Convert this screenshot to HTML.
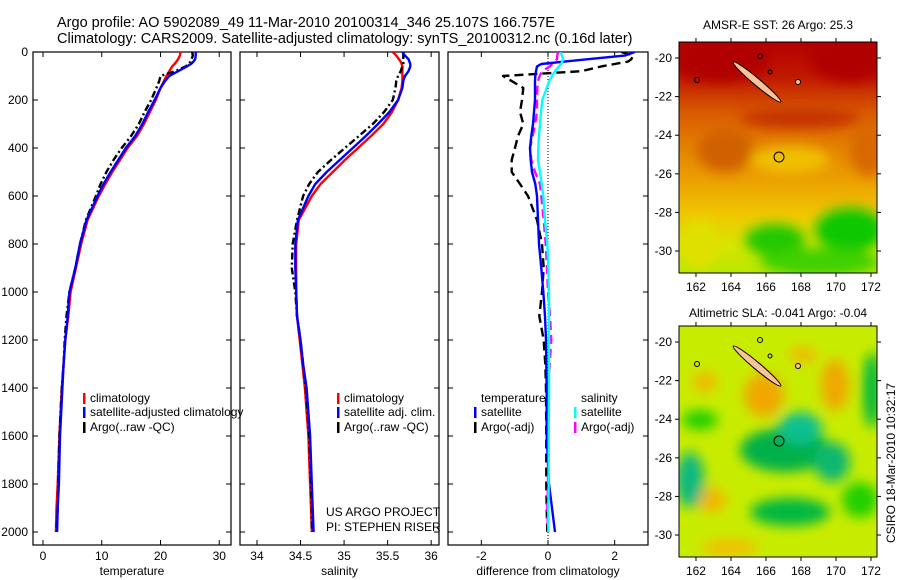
<!DOCTYPE html>
<html><head><meta charset="utf-8"><style>
html,body{margin:0;padding:0;background:#fff;}
svg{display:block;font-family:"Liberation Sans",sans-serif;}
</style></head><body>
<svg id="fig" width="900" height="580" viewBox="0 0 900 580">
<defs>
<filter id="blur6" x="-50%" y="-50%" width="200%" height="200%"><feGaussianBlur stdDeviation="6"/></filter>
<clipPath id="clipTop"><rect x="679" y="42" width="198" height="231"/></clipPath>
<clipPath id="clipBot"><rect x="679" y="326" width="198" height="231"/></clipPath>
<clipPath id="clipP1"><rect x="33" y="52" width="198" height="493"/></clipPath>
<clipPath id="clipP2"><rect x="240" y="52" width="199" height="493"/></clipPath>
<clipPath id="clipP3"><rect x="448" y="52" width="200" height="493"/></clipPath>
<linearGradient id="sstGrad" x1="0" y1="0" x2="0" y2="1">
<stop offset="0" stop-color="#b40000"/><stop offset="0.15" stop-color="#c01800"/><stop offset="0.3" stop-color="#d85800"/><stop offset="0.45" stop-color="#e48000"/><stop offset="0.6" stop-color="#eca000"/><stop offset="0.75" stop-color="#f0c800"/><stop offset="0.88" stop-color="#d8e400"/><stop offset="1" stop-color="#b8e800"/>
</linearGradient>
</defs>
<text x="57" y="27" font-size="14.5">Argo profile: AO 5902089_49 11-Mar-2010 20100314_346 25.107S 166.757E</text>
<text x="57" y="43" font-size="14.5">Climatology: CARS2009. Satellite-adjusted climatology: synTS_20100312.nc (0.16d later)</text>

<!-- SST map -->
<g>
<g clip-path="url(#clipTop)">
<rect x="679" y="42" width="198" height="231" fill="url(#sstGrad)"/>
<g filter="url(#blur6)">
<ellipse cx="850" cy="60" rx="40" ry="22" fill="#b00000"/>
<ellipse cx="720" cy="60" rx="50" ry="22" fill="#b00000"/>
<ellipse cx="800" cy="118" rx="60" ry="10" fill="#c43000"/>
<ellipse cx="725" cy="150" rx="28" ry="22" fill="#d06000"/>
<ellipse cx="868" cy="150" rx="18" ry="26" fill="#d86800"/>
<ellipse cx="790" cy="160" rx="40" ry="14" fill="#f0c000"/>
<ellipse cx="850" cy="230" rx="35" ry="22" fill="#10c800"/>
<ellipse cx="775" cy="240" rx="30" ry="16" fill="#20c800"/>
<ellipse cx="820" cy="262" rx="60" ry="14" fill="#40d000"/>
<ellipse cx="700" cy="245" rx="18" ry="25" fill="#e0e000"/>
</g>
<ellipse cx="757" cy="82" rx="31" ry="3.5" transform="rotate(40 757 82)" fill="#f9c49a" stroke="#000" stroke-width="1"/>
<circle cx="779" cy="157" r="5" fill="none" stroke="#000" stroke-width="1"/>
<circle cx="760" cy="56" r="2.5" fill="none" stroke="#000"/><circle cx="770" cy="72" r="2" fill="none" stroke="#000"/>
<circle cx="798" cy="82" r="2.5" fill="#f9c49a" stroke="#000"/><circle cx="697" cy="80" r="2.5" fill="none" stroke="#000"/>
</g>
<rect x="679" y="42" width="198" height="231" fill="none" stroke="#000"/>
</g>
<text x="778" y="29" font-size="12" text-anchor="middle">AMSR-E SST: 26 Argo: 25.3</text>

<!-- SLA map -->
<g>
<g clip-path="url(#clipBot)">
<rect x="679" y="326" width="198" height="231" fill="#c8ec00"/>
<g filter="url(#blur6)">
<ellipse cx="764" cy="395" rx="20" ry="22" fill="#f0a800"/>
<ellipse cx="835" cy="385" rx="14" ry="26" fill="#f0a800"/>
<ellipse cx="705" cy="382" rx="12" ry="10" fill="#f0b800"/>
<ellipse cx="803" cy="355" rx="14" ry="8" fill="#f0b800"/>
<ellipse cx="712" cy="500" rx="14" ry="13" fill="#f0b800"/>
<ellipse cx="785" cy="450" rx="45" ry="22" fill="#00b048"/>
<ellipse cx="800" cy="428" rx="22" ry="16" fill="#10c090"/>
<ellipse cx="832" cy="462" rx="18" ry="20" fill="#10b870"/>
<ellipse cx="690" cy="480" rx="14" ry="28" fill="#10b880"/>
<ellipse cx="790" cy="512" rx="40" ry="14" fill="#00b840"/>
<ellipse cx="872" cy="390" rx="9" ry="38" fill="#00b840"/>
<ellipse cx="700" cy="420" rx="18" ry="10" fill="#20d000"/>
<ellipse cx="860" cy="500" rx="18" ry="18" fill="#20d000"/>
<ellipse cx="730" cy="548" rx="28" ry="9" fill="#f0c000"/>
</g>
<ellipse cx="757" cy="366" rx="31" ry="3.5" transform="rotate(40 757 366)" fill="#f9c49a" stroke="#000" stroke-width="1"/>
<circle cx="779" cy="441" r="5" fill="none" stroke="#000" stroke-width="1"/>
<circle cx="760" cy="340" r="2.5" fill="none" stroke="#000"/><circle cx="770" cy="356" r="2" fill="none" stroke="#000"/>
<circle cx="798" cy="366" r="2.5" fill="#f9c49a" stroke="#000"/><circle cx="697" cy="364" r="2.5" fill="none" stroke="#000"/>
</g>
<rect x="679" y="326" width="198" height="231" fill="none" stroke="#000"/>
</g>
<text x="778" y="317" font-size="12" text-anchor="middle">Altimetric SLA: -0.041 Argo: -0.04</text>
<text transform="translate(895 463) rotate(-90)" font-size="12" text-anchor="middle">CSIRO 18-Mar-2010 10:32:17</text>

<text x="326" y="516" font-size="12">US ARGO PROJECT</text>
<text x="326" y="531" font-size="12">PI: STEPHEN RISER</text>
</svg>
<script>
// depth levels (m)
const depthLevels = [0,15,30,40,50,60,80,100,120,150,200,250,300,350,400,450,500,550,600,700,800,900,1000,1100,1200,1300,1400,1600,1800,1900,2000];
// temperature profiles
const tempClim = [23.4,23.3,23.0,22.7,22.4,22.0,21.5,21.0,20.6,20.0,19.2,18.2,17.2,16.0,14.4,13.1,11.8,10.6,9.5,7.6,6.5,5.6,4.7,4.3,3.8,3.5,3.2,2.8,2.5,2.3,2.2];
const tempSat = [26.0,26.0,25.9,25.6,25.2,24.5,23.0,21.5,20.8,20.0,19.0,17.9,16.9,15.7,14.1,12.8,11.5,10.3,9.3,7.4,6.3,5.5,4.5,4.2,3.8,3.5,3.3,2.9,2.7,2.5,2.4];
const tempArgo = [25.4,25.5,25.3,25.1,24.8,24.3,22.5,20.0,19.8,19.3,18.4,17.3,16.3,15.0,13.4,12.0,10.8,9.8,9.0,7.3,6.3,5.5,4.5,4.0,3.7,3.5,3.2,2.8,2.6,2.5,2.3];
// salinity profiles
const salClim = [35.56,35.60,35.63,35.65,35.66,35.67,35.67,35.67,35.67,35.66,35.62,35.55,35.45,35.31,35.16,35.01,34.87,34.73,34.63,34.48,34.45,34.45,34.45,34.46,34.49,34.52,34.55,34.59,34.61,34.62,34.63];
const salSat = [35.67,35.70,35.74,35.75,35.76,35.76,35.74,35.70,35.68,35.67,35.62,35.52,35.39,35.25,35.10,34.95,34.80,34.67,34.59,34.47,34.44,34.44,34.45,34.46,34.50,34.53,34.57,34.61,34.63,34.64,34.65];
const salArgo = [35.68,35.68,35.68,35.68,35.68,35.67,35.65,35.62,35.60,35.59,35.56,35.46,35.33,35.17,35.01,34.85,34.70,34.60,34.53,34.46,34.41,34.40,34.44,34.46,34.50,34.53,34.56,34.60,34.62,34.63,34.63];
// differences from climatology
const diffTempSat = [2.6,2.3,1.2,0.5,-0.2,-0.33,-0.36,-0.38,-0.39,-0.39,-0.39,-0.42,-0.45,-0.5,-0.54,-0.52,-0.48,-0.38,-0.33,-0.3,-0.27,-0.2,-0.14,-0.09,-0.06,-0.05,-0.04,-0.04,0.03,0.12,0.21];
const diffTempArgo = [2.2,2.55,2.5,2.4,2.0,1.6,1.0,-1.35,-1.1,-0.74,-0.78,-0.84,-0.74,-0.9,-0.99,-1.09,-1.09,-0.84,-0.6,-0.33,-0.18,-0.13,-0.18,-0.26,-0.13,-0.08,-0.06,-0.05,-0.05,-0.04,-0.02];
const diffSalSat = [0.36,0.42,0.45,0.43,0.39,0.33,0.21,0.12,0.04,-0.04,-0.17,-0.21,-0.24,-0.27,-0.29,-0.3,-0.24,-0.19,-0.14,-0.09,-0.02,0.01,0.03,0.03,0.03,0.03,0.03,0.02,0.02,0.01,0.01];
const diffSalArgo = [0.3,0.28,0.27,0.2,0.12,0.06,-0.18,-0.25,-0.3,-0.32,-0.33,-0.33,-0.39,-0.46,-0.54,-0.5,-0.39,-0.24,-0.2,-0.13,-0.07,-0.03,0.0,0.06,0.1,0.05,0.0,0.0,0.0,-0.02,0.0];
// tick labels
const depthTicks = [0,200,400,600,800,1000,1200,1400,1600,1800,2000];
const tempTicks = [0,10,20,30];
const salTicks = [34,34.5,35,35.5,36];
const diffTicks = [-2,0,2];
const latTicks = [-20,-22,-24,-26,-28,-30];
const lonTicks = [162,164,166,168,170,172];

const NS='http://www.w3.org/2000/svg';
const svg=document.getElementById('fig');
function mk(tag,attrs,parent){const e=document.createElementNS(NS,tag);for(const k in attrs)e.setAttribute(k,attrs[k]);(parent||svg).appendChild(e);return e;}
const yTop=52,yBot=545;
function yDepth(d){return yTop+d*0.24;}

const panels=[
 {x0:33,x1:231,vmin:-1.7,vmax:32.0,ticks:tempTicks,label:'temperature',clip:'clipP1',name:'temperature-panel'},
 {x0:240,x1:439,vmin:33.805,vmax:36.09,ticks:salTicks,label:'salinity',clip:'clipP2',name:'salinity-panel'},
 {x0:448,x1:648,vmin:-3,vmax:3,ticks:diffTicks,label:'difference from climatology',clip:'clipP3',name:'difference-panel'}
];
panels.forEach(p=>{p.sx=v=>p.x0+(v-p.vmin)/(p.vmax-p.vmin)*(p.x1-p.x0);});

panels.forEach((p,i)=>{
 const g=mk('g',{});
 
 
 mk('rect',{x:p.x0,y:yTop,width:p.x1-p.x0,height:yBot-yTop,fill:'none',stroke:'#000','stroke-width':1.2},g);
 depthTicks.forEach(d=>{
  const y=yDepth(d);
  mk('line',{x1:p.x0,x2:p.x0+5,y1:y,y2:y,stroke:'#000'},g);
  mk('line',{x1:p.x1,x2:p.x1-5,y1:y,y2:y,stroke:'#000'},g);
  if(i===0){const t=mk('text',{x:28,y:y+4,'font-size':12,'text-anchor':'end'},g);t.textContent=d;
   
   }
 });
 p.ticks.forEach(v=>{
  const x=p.sx(v);
  mk('line',{x1:x,x2:x,y1:yBot,y2:yBot-5,stroke:'#000'},g);
  mk('line',{x1:x,x2:x,y1:yTop,y2:yTop+5,stroke:'#000'},g);
  const t=mk('text',{x:x,y:560,'font-size':12,'text-anchor':'middle'},g);t.textContent=v;
  
  
 });
 const lt=mk('text',{x:(p.x0+p.x1)/2,y:575,'font-size':12,'text-anchor':'middle'},g);lt.textContent=p.label;
 
 
});
const zl=mk('line',{x1:panels[2].sx(0),x2:panels[2].sx(0),y1:yTop,y2:yBot,stroke:'#000','stroke-dasharray':'1 2','stroke-width':1});



function line(p,vals,color,dash,name){
 const pts=vals.map((v,k)=>p.sx(v).toFixed(1)+','+yDepth(depthLevels[k]).toFixed(1)).join(' ');
 const e=mk('polyline',{points:pts,fill:'none',stroke:color,'stroke-width':2.4,'stroke-linejoin':'round','clip-path':'url(#'+p.clip+')'});
 if(dash)e.setAttribute('stroke-dasharray',dash);
 
 
}
line(panels[0],tempClim,'#ff0000',null,'temp-climatology-line');
line(panels[0],tempArgo,'#000000','7 3 2 3','temp-argo-line');
line(panels[0],tempSat,'#0000ff',null,'temp-satellite-line');
line(panels[1],salClim,'#ff0000',null,'sal-climatology-line');
line(panels[1],salArgo,'#000000','7 3 2 3','sal-argo-line');
line(panels[1],salSat,'#0000ff',null,'sal-satellite-line');
line(panels[2],diffTempArgo,'#000000','9 5','diff-temp-argo-line');
line(panels[2],diffSalArgo,'#ff00ff','9 5','diff-sal-argo-line');
line(panels[2],diffTempSat,'#0000ff',null,'diff-temp-satellite-line');
line(panels[2],diffSalSat,'#00ffff',null,'diff-sal-satellite-line');

function legend(x,y,color,text,name){
 const g=mk('g',{});
 
 
 if(color)mk('rect',{x:x,y:y-5,width:2.5,height:11,fill:color},g);
 const t=mk('text',{x:x+7,y:y+4,'font-size':12},g);t.textContent=text;
}
legend(83,398,'#ff0000','climatology','legend-climatology');
legend(83,412,'#0000ff','satellite-adjusted climatology','legend-satellite-adjusted');
legend(83,427,'#000000','Argo(..raw -QC)','legend-argo');
legend(337,398,'#ff0000','climatology','legend-sal-climatology');
legend(337,412,'#0000ff','satellite adj. clim.','legend-sal-satellite');
legend(337,427,'#000000','Argo(..raw -QC)','legend-sal-argo');
legend(474,398,null,'temperature','legend-temperature-heading');
legend(474,412,'#0000ff','satellite','legend-diff-temp-satellite');
legend(474,427,'#000000','Argo(-adj)','legend-diff-temp-argo');
legend(574,398,null,'salinity','legend-salinity-heading');
legend(574,412,'#00ffff','satellite','legend-diff-sal-satellite');
legend(574,427,'#ff00ff','Argo(-adj)','legend-diff-sal-argo');

function lonX(l){return 679+(l-161.03)*17.5;}
[{y0:42,y1:273,n:'sst'},{y0:326,y1:557,n:'sla'}].forEach(m=>{
 const latY=l=>m.y0+(-19.17-l)*19.3;
 latTicks.forEach(l=>{
  const y=latY(l);
  mk('line',{x1:679,x2:675,y1:y,y2:y,stroke:'#000'});
  mk('line',{x1:877,x2:881,y1:y,y2:y,stroke:'#000'});
  const t=mk('text',{x:672,y:y+4,'font-size':12,'text-anchor':'end'});t.textContent=l;
  
  
 });
 lonTicks.forEach(l=>{
  const x=lonX(l);
  mk('line',{x1:x,x2:x,y1:m.y1,y2:m.y1+4,stroke:'#000'});
  mk('line',{x1:x,x2:x,y1:m.y0,y2:m.y0-4,stroke:'#000'});
  const t=mk('text',{x:x,y:m.y1+18,'font-size':12,'text-anchor':'middle'});t.textContent=l;
  
  
 });
});
</script>
</body></html>
